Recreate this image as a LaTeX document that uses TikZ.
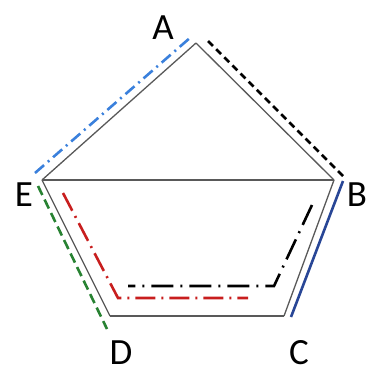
\documentclass[tikz,border=0pt]{standalone}
\usepackage{fontspec}
\setmainfont{Carlito}
\begin{document}
\begin{tikzpicture}[x=1pt,y=-1pt,every node/.style={font=\fontsize{37}{40}\selectfont,inner sep=0pt},
  arista/.style={draw=black!65,line width=1.3pt},
  camino/.style={line width=2.6pt}]
  \useasboundingbox (0,0) rectangle (377,373);
  % Vértices
  \coordinate (a) at (196,43);
  \coordinate (b) at (334,180);
  \coordinate (c) at (284,316);
  \coordinate (d) at (110,316);
  \coordinate (e) at (42,180);

  % Etiquetas
  \node (la) at (163,28) {A};
  \node (lb) at (357,195) {B};
  \node (lc) at (299,353) {C};
  \node (ld) at (121,353) {D};
  \node (le) at (24,195) {E};

  % Aristas
  \foreach \from/\to in {a/b, b/c, c/d, d/e, e/a, e/b}
    \draw[arista] (\from) -- (\to);

  % Puntos de los caminos
  \coordinate (ea1) at (35,173);
  \coordinate (ea2) at (191,37);
  \coordinate (ab1) at (208,41);
  \coordinate (ab2) at (343,176);
  \coordinate (bc1) at (343,181);
  \coordinate (bc2) at (291,317);
  \coordinate (ed1) at (38,186);
  \coordinate (ed2) at (107,329);
  \coordinate (r1) at (63,193);
  \coordinate (r2) at (118,298);
  \coordinate (r3) at (248,298);
  \coordinate (n1) at (312,205);
  \coordinate (n2) at (274,286);
  \coordinate (n3) at (128,286);

  % Caminos
  \draw[camino,color={rgb,255:red,58;green,128;blue,220},dash pattern=on 12pt off 5pt on 2pt off 5pt] (ea1) -- (ea2);
  \draw[camino,black,dash pattern=on 7pt off 4.5pt] (ab1) -- (ab2);
  \draw[camino,color={rgb,255:red,40;green,70;blue,150}] (bc1) -- (bc2);
  \draw[camino,color={rgb,255:red,40;green,130;blue,50},dash pattern=on 10pt off 5pt] (ed1) -- (ed2);
  \draw[camino,color={rgb,255:red,200;green,30;blue,30},dash pattern=on 20pt off 6pt on 2pt off 6pt] (r1) -- (r2) -- (r3);
  \draw[camino,black,dash pattern=on 22pt off 7pt on 2pt off 7pt] (n1) -- (n2) -- (n3);
\end{tikzpicture}
\end{document}
